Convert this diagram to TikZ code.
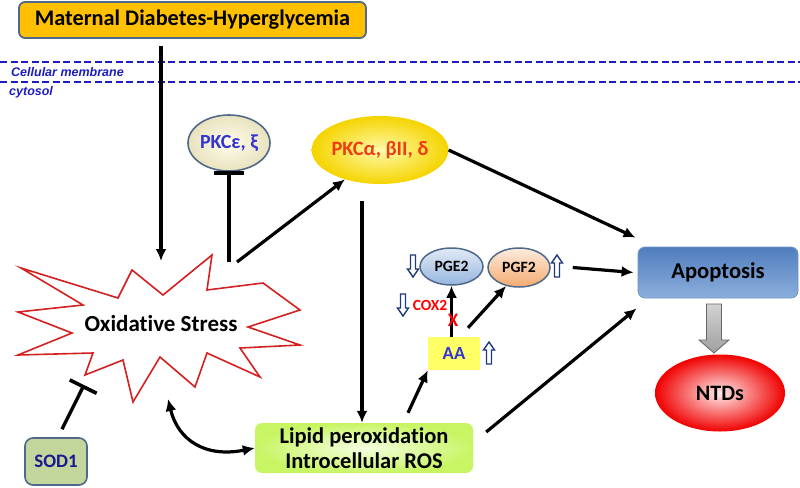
\documentclass[tikz,border=0pt]{standalone}
\usepackage{fontspec}
\setmainfont{Carlito}[Ligatures=NoCommon]
\newfontfamily\arialf{Liberation Sans}
\usetikzlibrary{arrows.meta,shapes.geometric}
\definecolor{matfill}{HTML}{FFC000}
\definecolor{bordergray}{HTML}{50698A}
\definecolor{dashblue}{HTML}{1C1CC0}
\definecolor{txtblue}{HTML}{3434D0}
\definecolor{sodblue}{HTML}{1A1A90}
\definecolor{pkcred}{HTML}{F03C14}
\definecolor{sodfill}{HTML}{C3D69B}
\definecolor{aafill}{HTML}{FFFF66}
\definecolor{navy}{HTML}{1F3A7A}
\definecolor{starred}{HTML}{D42020}
\begin{document}
\begin{tikzpicture}[x=1pt,y=-1pt,font=\bfseries,
  arr/.style={line width=3.2pt,-{Latex[length=12pt,width=11pt]}},
  dblarr/.style={line width=3.2pt,{Latex[length=12pt,width=11pt]}-{Latex[length=12pt,width=11pt]}},
  inh/.style={line width=3.4pt,-{Bar[width=30pt,line width=3.6pt]}},
  membrane/.style={dashblue,line width=1.4pt,dash pattern=on 7pt off 3.5pt},
  memlabel/.style={anchor=west,text=dashblue,font=\arialf\bfseries\itshape\fontsize{12.5}{14}\selectfont,inner sep=0pt},
  oval/.style={ellipse,inner sep=0pt},
  hollow/.style={draw=navy,fill=white,line width=1.4pt,line join=miter}
]
\useasboundingbox (0,0) rectangle (800,487);
\tikzset{
  uparrow/.pic={\draw[hollow] (-2.5,11)--(-2.5,-3)--(-5.5,-3)--(0,-11)--(5.5,-3)--(2.5,-3)--(2.5,11)--cycle;},
  downarrow/.pic={\draw[hollow] (-2.5,-11)--(-2.5,3)--(-5.5,3)--(0,11)--(5.5,3)--(2.5,3)--(2.5,-11)--cycle;}
}

% membrane
\draw[membrane] (0,62) -- (800,62);
\draw[membrane] (0,82) -- (800,82);
\node[memlabel] (cm) at (11,72) {Cellular membrane};
\node[memlabel] (cy) at (9,92) {cytosol};

% top box
\node[draw=bordergray,line width=1.8pt,fill=matfill,rounded corners=6pt,
  minimum width=347pt,minimum height=36pt,font=\bfseries\fontsize{22.3}{26}\selectfont] (mat) at (192.5,20) {Maternal Diabetes-Hyperglycemia};

% oxidative stress starburst
\draw[starred,line width=1.6pt,fill=white,line join=miter]
 (21,268)--(118,298)--(132,270)--(163,295)--(212,255)--(207,290)--(263,283)--(300,310)
 --(248,327)--(300,345)--(240,348)--(260,377)--(207,353)--(195,387)--(160,357)--(133,402)
 --(123,360)--(85,375)--(93,353)--(18,355)--(72,333)--(18,312)--(83,305)--cycle;
\node[font=\bfseries\fontsize{23}{26}\selectfont] (ox) at (161,324) {Oxidative Stress};
\coordinate (oxtop) at (161,261);
\coordinate (oxpke) at (229,262);
\coordinate (oxpka) at (237,262);
\coordinate (oxsod) at (84,385);
\coordinate (oxlip) at (168,399);

% PKC nodes
\node[oval,draw=bordergray,line width=1.6pt,inner color={rgb,255:red,255;green,253;blue,235},outer color={rgb,255:red,232;green,226;blue,190},
  minimum width=68pt,minimum height=56pt,text=txtblue,font=\bfseries\fontsize{20}{23}\selectfont] (pke) at (229,143) {PKCε, ξ};
\node[oval,inner color={rgb,255:red,255;green,250;blue,170},outer color={rgb,255:red,245;green,212;blue,0},
  minimum width=128pt,minimum height=68pt,text=pkcred,font=\bfseries\fontsize{20.4}{23}\selectfont] (pka) at (380,150) {PKCα, βII, δ};

% lipid
\node[rounded corners=7pt,inner color={rgb,255:red,245;green,255;blue,225},outer color={rgb,255:red,200;green,245;blue,100},
  minimum width=218pt,minimum height=50pt,align=center,font=\bfseries\fontsize{22.5}{25}\selectfont] (lip) at (364,448) {Lipid peroxidation\\Introcellular ROS};

% AA, PGE2, PGF2
\node[fill=aafill,minimum width=52pt,minimum height=33pt,text=txtblue,font=\bfseries\fontsize{18.6}{21}\selectfont] (aa) at (454,353.5) {AA};
\node[oval,draw=bordergray,line width=1.5pt,top color={rgb,255:red,225;green,234;blue,246},bottom color={rgb,255:red,150;green,182;blue,222},
  minimum width=63pt,minimum height=37pt,font=\bfseries\fontsize{15.7}{18}\selectfont] (pge) at (451.5,266.5) {PGE2};
\node[oval,draw=bordergray,line width=1.5pt,top color={rgb,255:red,253;green,236;blue,222},bottom color={rgb,255:red,244;green,170;blue,110},
  minimum width=62pt,minimum height=39pt,font=\bfseries\fontsize{15.7}{18}\selectfont] (pgf) at (519,267.5) {PGF2};
\node[text=red,font=\bfseries\fontsize{15.5}{17}\selectfont,inner sep=0pt] (cox) at (430,305) {COX2};
\pic at (413,266) {downarrow};
\pic at (557,266) {uparrow};
\pic at (403,305) {downarrow};
\pic at (489,353) {uparrow};

% apoptosis & NTDs
\node[draw={rgb,255:red,110;green,150;blue,200},line width=0.8pt,rounded corners=7pt,
  top color={rgb,255:red,80;green,125;blue,190},middle color=white,bottom color={rgb,255:red,140;green,175;blue,220},
  minimum width=160pt,minimum height=51pt,font=\bfseries\fontsize{22.6}{26}\selectfont] (apo) at (718,272.5) {Apoptosis};
\node[oval,inner color={rgb,255:red,255;green,235;blue,235},outer color={rgb,255:red,240;green,0;blue,0},
  minimum width=130pt,minimum height=77pt,font=\bfseries\fontsize{22}{26}\selectfont] (ntd) at (720,393) {NTDs};
\draw[draw=gray!80!black,line width=0.8pt,top color=gray!35,bottom color=gray!75,line join=miter]
  (706.5,304)--(721.5,304)--(721.5,340)--(729,340)--(714,353)--(699,340)--(706.5,340)--cycle;

% SOD1
\node[draw=bordergray,line width=1.6pt,fill=sodfill,rounded corners=8pt,
  minimum width=62pt,minimum height=47pt,text=sodblue,font=\bfseries\fontsize{19}{22}\selectfont] (sod) at (56,461.5) {SOD1};

% connectors
\draw[arr] (mat.south -| oxtop) ++(0,7) -- (oxtop);
\draw[inh] (oxpke) -- (229,171);
\draw[arr] (oxpka) -- (pka.220);
\draw[arr] (pka.east) -- ([shift={(-2,-9)}]apo.north west);
\draw[arr] (pka.south -| 362,0) ++(0,17) -- (lip.north -| 362,0);
\draw[inh] ([shift={(6,-8)}]sod.north) -- (oxsod);
\draw[dblarr] (oxlip) .. controls (178,440) and (205,458) .. (lip.west);
\draw[arr] ([shift={(44,-10)}]lip.north) -- (aa.south west);
\draw[arr] ([shift={(13,-16)}]lip.east) -- ([shift={(-1,10)}]apo.south west);
\draw[arr] (aa.north -| pge.south) -- (pge.south);
\draw[arr] ([shift={(14,-9)}]aa.north) -- (pgf.235);
\draw[arr] ([xshift=22pt]pgf.east) -- ([xshift=-4pt]apo.west);
\node[text=red,font=\bfseries\fontsize{19}{21}\selectfont,inner sep=0pt] (xmark) at (453,320) {X};
\end{tikzpicture}
\end{document}
